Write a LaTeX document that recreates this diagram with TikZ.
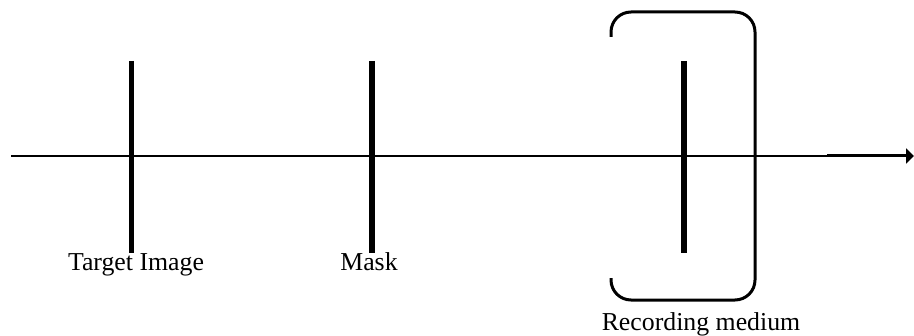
\documentclass[tikz,border=0pt]{standalone}
\usepackage{fontspec}
\setmainfont{Liberation Serif}
\usetikzlibrary{arrows.meta,positioning}

\begin{document}
\begin{tikzpicture}[x=0.5pt,y=-0.5pt,
    plate/.style={line width=2.8pt},
    axis/.style={line width=0.8pt},
    holder/.style={line width=1.5pt,rounded corners=10pt},
    lbl/.style={anchor=base,inner sep=0pt,font=\fontsize{12.9}{15}\selectfont}]
      \useasboundingbox (0,0) rectangle (914,336);

      \coordinate (start) at (11,156);
      \coordinate (mid) at (827,156);
      \coordinate (end) at (914,156);

      \coordinate (t1) at (131.5,61);  \coordinate (t2) at (131.5,253);
      \coordinate (m1) at (372,61);    \coordinate (m2) at (372,253);
      \coordinate (r1) at (684,61);    \coordinate (r2) at (684,253);

      \node[lbl] (target) at (136,270) {Target Image};
      \node[lbl] (mask) at (369,270) {Mask};
      \node[lbl] (medium) at (701,330) {Recording medium};

      % thin axis, thicker near the tip
      \draw[axis] (start) -- ([xshift=-4pt]end);
      \draw[line width=1.5pt,-{Triangle[length=4pt,width=7.5pt]}] (mid) -- (end);

      \draw[plate] (t1) -- (t2);
      \draw[plate] (m1) -- (m2);
      \draw[plate] (r1) -- (r2);

      \draw[holder] (611,37) -- (611,12) -- (755,12) -- (755,300) -- (611,300) -- (611,278);

\end{tikzpicture}
\end{document}
